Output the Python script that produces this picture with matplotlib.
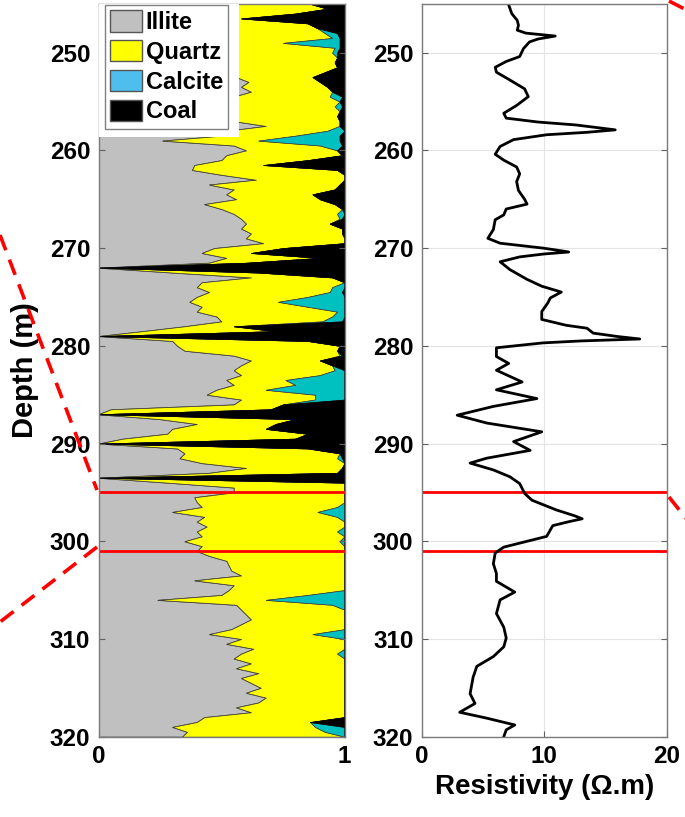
import numpy as np
import matplotlib
matplotlib.use("Agg")
import matplotlib.pyplot as plt
from matplotlib.patches import Patch, Rectangle
from matplotlib.lines import Line2D

plt.rcParams['font.family'] = ['Liberation Sans', 'DejaVu Sans']
plt.rcParams['font.weight'] = 'bold'

# mineral fractions every 0.5 m (coal is the remainder to 1)
depth = np.arange(245.0, 320.01, 0.5)
illite = [0.50, 0.48, 0.50, 0.47, 0.52, 0.50, 0.48, 0.52, 0.50, 0.55,
          0.50, 0.52, 0.48, 0.50, 0.53, 0.56, 0.61, 0.58, 0.62, 0.55,
          0.50, 0.52, 0.50, 0.53, 0.55, 0.68, 0.52, 0.50, 0.26, 0.55,
          0.60, 0.52, 0.50, 0.39, 0.38, 0.50, 0.64, 0.45, 0.55, 0.52,
          0.56, 0.43, 0.50, 0.55, 0.58, 0.60, 0.58, 0.62, 0.60, 0.67,
          0.47, 0.42, 0.52, 0.45, 0.00, 0.30, 0.62, 0.42, 0.40, 0.45,
          0.40, 0.37, 0.42, 0.40, 0.48, 0.50, 0.35, 0.18, 0.00, 0.30,
          0.32, 0.35, 0.55, 0.62, 0.58, 0.55, 0.58, 0.52, 0.55, 0.48,
          0.44, 0.58, 0.55, 0.05, 0.00, 0.25, 0.40, 0.30, 0.28, 0.10,
          0.00, 0.32, 0.35, 0.33, 0.42, 0.60, 0.45, 0.00, 0.28, 0.55,
          0.55, 0.39, 0.40, 0.42, 0.30, 0.43, 0.40, 0.44, 0.40, 0.42,
          0.35, 0.42, 0.40, 0.45, 0.52, 0.53, 0.54, 0.58, 0.39, 0.55,
          0.53, 0.50, 0.24, 0.56, 0.58, 0.60, 0.62, 0.58, 0.54, 0.45,
          0.58, 0.52, 0.63, 0.58, 0.55, 0.62, 0.56, 0.65, 0.58, 0.62,
          0.66, 0.60, 0.68, 0.65, 0.56, 0.62, 0.43, 0.40, 0.30, 0.36,
          0.34]
quartz = [0.36, 0.45, 0.30, 0.11, 0.33, 0.39, 0.44, 0.43, 0.25, 0.41,
          0.45, 0.45, 0.48, 0.47, 0.39, 0.31, 0.29, 0.35, 0.33, 0.39,
          0.48, 0.44, 0.48, 0.44, 0.43, 0.30, 0.41, 0.30, 0.39, 0.35,
          0.37, 0.47, 0.35, 0.28, 0.59, 0.50, 0.36, 0.53, 0.41, 0.35,
          0.34, 0.53, 0.49, 0.42, 0.40, 0.34, 0.41, 0.37, 0.40, 0.33,
          0.28, 0.20, 0.38, 0.15, 0.00, 0.35, 0.33, 0.58, 0.55, 0.49,
          0.45, 0.36, 0.43, 0.57, 0.47, 0.41, 0.20, 0.54, 0.00, 0.55,
          0.66, 0.62, 0.43, 0.28, 0.37, 0.41, 0.32, 0.24, 0.25, 0.20,
          0.44, 0.30, 0.20, 0.65, 0.00, 0.55, 0.32, 0.38, 0.57, 0.70,
          0.00, 0.53, 0.63, 0.64, 0.58, 0.39, 0.52, 0.00, 0.72, 0.45,
          0.45, 0.61, 0.60, 0.55, 0.59, 0.54, 0.60, 0.56, 0.57, 0.58,
          0.63, 0.58, 0.60, 0.55, 0.48, 0.47, 0.46, 0.42, 0.61, 0.45,
          0.47, 0.35, 0.44, 0.39, 0.42, 0.40, 0.38, 0.42, 0.46, 0.42,
          0.42, 0.48, 0.37, 0.39, 0.45, 0.38, 0.44, 0.35, 0.42, 0.38,
          0.34, 0.40, 0.32, 0.35, 0.44, 0.38, 0.57, 0.46, 0.58, 0.56,
          0.66]
calcite = [0.00, 0.00, 0.00, 0.00, 0.00, 0.00, 0.05, 0.03, 0.23, 0.02,
           0.02, 0.00, 0.00, 0.00, 0.00, 0.00, 0.00, 0.00, 0.00, 0.05,
           0.00, 0.03, 0.00, 0.00, 0.00, 0.00, 0.07, 0.18, 0.33, 0.09,
           0.00, 0.00, 0.00, 0.00, 0.00, 0.00, 0.00, 0.00, 0.00, 0.00,
           0.00, 0.00, 0.00, 0.03, 0.01, 0.00, 0.00, 0.00, 0.00, 0.00,
           0.00, 0.00, 0.00, 0.00, 0.00, 0.00, 0.00, 0.00, 0.05, 0.05,
           0.15, 0.27, 0.15, 0.03, 0.05, 0.08, 0.00, 0.00, 0.00, 0.00,
           0.00, 0.00, 0.01, 0.00, 0.00, 0.04, 0.10, 0.24, 0.20, 0.32,
           0.12, 0.12, 0.00, 0.00, 0.00, 0.00, 0.00, 0.00, 0.00, 0.00,
           0.00, 0.00, 0.00, 0.02, 0.00, 0.00, 0.00, 0.00, 0.00, 0.00,
           0.00, 0.00, 0.00, 0.03, 0.11, 0.03, 0.00, 0.00, 0.03, 0.00,
           0.02, 0.00, 0.00, 0.00, 0.00, 0.00, 0.00, 0.00, 0.00, 0.00,
           0.00, 0.15, 0.32, 0.05, 0.00, 0.00, 0.00, 0.00, 0.00, 0.13,
           0.00, 0.00, 0.00, 0.03, 0.00, 0.00, 0.00, 0.00, 0.00, 0.00,
           0.00, 0.00, 0.00, 0.00, 0.00, 0.00, 0.00, 0.00, 0.12, 0.08,
           0.00]

# resistivity log (ohm.m)
res_depth = [245.1, 246.0, 246.7, 247.2, 247.7, 248.0, 248.3, 248.6, 248.9, 249.6,
             250.4, 250.9, 251.5, 252.0, 252.8, 253.7, 254.5, 255.4, 256.2, 256.7,
             257.1, 257.4, 257.9, 258.15, 258.4, 258.9, 259.6, 260.4, 261.0, 261.7,
             262.4, 263.2, 264.1, 265.0, 265.5, 266.0, 266.6, 267.1, 268.1, 269.0,
             269.5, 270.0, 270.2, 270.4, 270.6, 270.9, 271.4, 272.2, 273.2, 273.9,
             274.5, 275.1, 275.6, 276.5, 277.3, 277.9, 278.2, 278.7, 279.05, 279.3,
             279.5, 279.7, 280.2, 281.1, 281.8, 282.5, 283.7, 284.5, 285.4, 286.2,
             287.1, 287.9, 288.8, 289.8, 290.7, 291.5, 292.0, 292.7, 293.4, 294.1,
             295.1, 295.8, 296.8, 297.4, 297.7, 298.0, 298.4, 299.5, 300.6, 301.2,
             302.3, 303.3, 304.1, 305.2, 306.0, 307.4, 308.8, 309.9, 310.8, 311.8,
             312.8, 313.9, 315.6, 316.6, 317.5, 318.1, 318.8, 319.3, 320.0]
resistivity = [7.1, 7.35, 7.8, 7.9, 7.8, 8.5, 10.9, 9.5, 8.8, 8.3,
               8.0, 6.9, 6.0, 6.1, 7.2, 8.4, 8.7, 7.75, 6.7, 6.9,
               9.5, 12.6, 15.8, 13.5, 10.2, 7.5, 6.4, 6.0, 6.7, 7.75,
               8.0, 7.75, 7.9, 8.4, 8.6, 6.9, 6.7, 6.0, 5.85, 5.4,
               6.4, 9.9, 11.0, 12.0, 10.0, 8.0, 6.4, 7.2, 8.6, 9.8,
               11.4, 10.5, 10.3, 9.8, 9.8, 11.8, 13.5, 14.0, 16.0, 17.8,
               13.0, 9.9, 6.1, 6.1, 7.1, 6.1, 8.2, 6.1, 9.4, 5.85,
               2.9, 5.3, 9.8, 7.5, 8.85, 5.3, 3.95, 5.85, 7.2, 8.0,
               8.4, 9.0, 11.0, 12.5, 13.1, 12.0, 10.7, 10.2, 6.7, 6.0,
               5.85, 6.1, 6.1, 7.6, 6.4, 6.1, 6.7, 6.9, 6.7, 5.85,
               4.5, 4.2, 3.95, 4.35, 3.1, 5.3, 7.6, 6.9, 6.7]

zone_depths = [295, 301]
depth_ticks = [250, 260, 270, 280, 290, 300, 310, 320]
labels = ['Illite', 'Quartz', 'Calcite', 'Coal']

W, H = 685, 817
fig = plt.figure(figsize=(W / 100, H / 100), dpi=100)
bottom = 1 - 736.7 / H
height = (736.7 - 3.8) / H
ax1 = fig.add_axes([98.5 / W, bottom, 246 / W, height])
ax2 = fig.add_axes([421.7 / W, bottom, 245 / W, height])

# stacked composition
top1 = np.array(illite)
top2 = top1 + np.array(quartz)
top3 = top2 + np.array(calcite)
coal = 1 - top3
top4 = top3 + coal
edge = '#3a3a3a'
ax1.fill_betweenx(depth, 0, top1, facecolor='#c0c0c0', edgecolor=edge, lw=0.7)
ax1.fill_betweenx(depth, top1, top2, facecolor='#ffff00', edgecolor=edge, lw=0.5)
ax1.fill_betweenx(depth, top2, top3, facecolor='#00c0c0', edgecolor=edge, lw=0.5)
ax1.fill_betweenx(depth, top3, top4, facecolor='black', edgecolor='black', lw=0.5)

for d in zone_depths:
    ax1.axhline(d, color='red', lw=2)
    ax2.axhline(d, color='red', lw=2)

ax1.set_xlim(0, 1)
ax1.set_ylim(320, 245)
ax1.set_xticks([0, 1])
ax1.set_xticklabels(['0', '1'])
ax1.set_yticks(depth_ticks)
ax1.set_ylabel('Depth (m)', fontsize=21, fontweight='bold', labelpad=8)

# white block behind legend
ax1.add_patch(Rectangle((0, 245), 0.571, 13.6, facecolor='white', edgecolor='none', zorder=5))
handles = [Patch(facecolor='#c0c0c0', edgecolor='#555555'),
           Patch(facecolor='#ffff00', edgecolor='#555555'),
           Patch(facecolor='#4dbeee', edgecolor='#555555'),
           Patch(facecolor='black', edgecolor='#555555')]
leg = ax1.legend(handles, labels, loc='upper left', bbox_to_anchor=(0.026, 0.998),
                 frameon=True, fancybox=False, framealpha=1,
                 edgecolor='#808080', borderaxespad=0, handlelength=1.35,
                 handleheight=1.0, handletextpad=0.15, labelspacing=0.26,
                 borderpad=0.22, prop={'weight': 'bold', 'size': 17})
leg.set_zorder(6)

# resistivity track
ax2.plot(resistivity, res_depth, color='black', lw=2, solid_joinstyle='round')
ax2.set_xlim(0, 20)
ax2.set_ylim(320, 245)
ax2.set_xticks([0, 10, 20])
ax2.set_yticks(depth_ticks)
ax2.grid(True, color='#e4e4e4', lw=0.8)
ax2.set_axisbelow(True)
ax2.set_xlabel('Resistivity (\u03a9.m)', fontsize=20, fontweight='bold', labelpad=4)

for ax in (ax1, ax2):
    ax.tick_params(direction='in', length=4, width=0.8, color='#606060',
                   labelsize=17.5, pad=6, right=True, top=False)
    for lab in ax.get_xticklabels() + ax.get_yticklabels():
        lab.set_fontweight('bold')
    for sp in ax.spines.values():
        sp.set_color('#7a7a7a')
        sp.set_linewidth(1)

# red dashed connector lines
dash = dict(color='red', lw=2.6, linestyle=(0, (4.5, 2.8)), transform=fig.transFigure)
for (x0, y0), (x1, y1) in [((0, 235), (97, 490)), ((97, 547), (0, 622)),
                           ((669, 1), (700, 17)), ((669, 497), (700, 536))]:
    fig.add_artist(Line2D([x0 / W, x1 / W], [1 - y0 / H, 1 - y1 / H], **dash))

fig.savefig('out.png', dpi=100)
